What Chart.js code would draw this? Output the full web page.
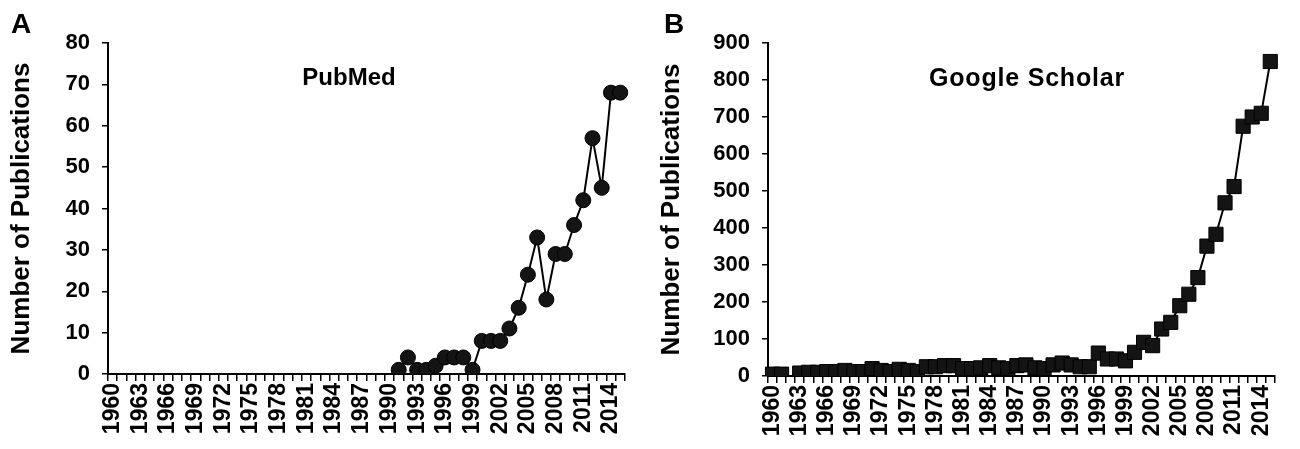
<!DOCTYPE html>
<html>
<head>
<meta charset="utf-8">
<script src="https://cdn.jsdelivr.net/npm/chart.js@4/dist/chart.umd.min.js"></script>
<style>
  html, body { margin: 0; padding: 0; background: #fff; }
  body { width: 1300px; height: 449px; position: relative; overflow: hidden; font-family: "Liberation Sans", Arial, sans-serif; }
  .panel { position: absolute; top: 0; width: 650px; height: 449px; }
  .letter { position: absolute; font-size: 28px; font-weight: bold; color: #000; line-height: 1; }
  .ptitle { position: absolute; font-size: 24px; font-weight: bold; color: #000; line-height: 1; white-space: nowrap; transform: translateX(-50%); }
</style>
</head>
<body>
<canvas id="chartA" class="panel" style="left:0" width="650" height="449"></canvas>
<canvas id="chartB" class="panel" style="left:650px" width="650" height="449"></canvas>
<div class="letter" style="left:11px; top:10px">A</div>
<div class="letter" style="left:664px; top:10px">B</div>
<div class="ptitle" style="left:349px; top:65px">PubMed</div>
<div class="ptitle" style="left:1027px; top:65px; font-size:25px; letter-spacing:0.8px">Google Scholar</div>
<script>
    const years = [
        "1960", "1961", "1962", "1963", "1964", "1965", "1966", "1967", "1968", "1969",
        "1970", "1971", "1972", "1973", "1974", "1975", "1976", "1977", "1978", "1979",
        "1980", "1981", "1982", "1983", "1984", "1985", "1986", "1987", "1988", "1989",
        "1990", "1991", "1992", "1993", "1994", "1995", "1996", "1997", "1998", "1999",
        "2000", "2001", "2002", "2003", "2004", "2005", "2006", "2007", "2008", "2009",
        "2010", "2011", "2012", "2013", "2014", "2015",
    ];

    // PubMed: nothing before 1991
    const pubmedCounts = [
        null, null, null, null, null, null, null, null, null, null,
        null, null, null, null, null, null, null, null, null, null,
        null, null, null, null, null, null, null, null, null, null,
        null, 1, 4, 1, 1, 2, 4, 4, 4, 1,
        8, 8, 8, 11, 16, 24, 33, 18, 29, 29,
        36, 42, 57, 45, 68, 68,
    ];

    const scholarCounts = [
        5, 5, null, 8, 10, 10, 12, 12, 15, 12,
        12, 20, 15, 12, 18, 15, 12, 25, 25, 28,
        28, 20, 20, 22, 28, 22, 20, 28, 30, 22,
        20, 30, 35, 30, 25, 25, 62, 46, 46, 41,
        64, 91, 82, 127, 145, 190, 221, 266, 351, 383,
        468, 512, 675, 700, 710, 850,
    ];

    const pubmedTicks = { min: 0, max: 80, step: 10 };
    const scholarTicks = { min: 0, max: 900, step: 100 };
    const yTitle = "Number of Publications";
    const LABEL_EVERY = 3;

    const FONT = "'Liberation Sans', Arial, sans-serif";

    function makeChart(canvasId, values, range, pointStyle, pointRadius, box) {
        return new Chart(document.getElementById(canvasId), {
            type: "line",
            data: {
                labels: years,
                datasets: [{
                    data: values,
                    borderColor: "#000",
                    borderWidth: 2,
                    pointStyle: pointStyle,
                    pointRadius: pointRadius,
                    pointBackgroundColor: "#141414",
                    pointBorderColor: "#000",
                    pointBorderWidth: 1,
                    spanGaps: false,
                    tension: 0,
                }],
            },
            options: {
                responsive: false,
                animation: false,
                devicePixelRatio: 1,
                layout: { padding: { top: box.top, right: box.right, bottom: 0, left: 0 } },
                plugins: { legend: { display: false }, tooltip: { enabled: false } },
                scales: {
                    x: {
                        type: "category",
                        offset: true,
                        border: { display: true, color: "#000", width: 2 },
                        grid: { drawOnChartArea: false, drawTicks: true, tickLength: 7, offset: true, color: "#000", lineWidth: 1.5 },
                        ticks: {
                            autoSkip: false,
                            maxRotation: 90,
                            minRotation: 90,
                            padding: 2,
                            color: "#000",
                            font: { family: FONT, size: 23, weight: "bold" },
                            callback(value, index) {
                                return index % LABEL_EVERY === 0 ? this.getLabelForValue(value) : "";
                            },
                        },
                        afterFit(scale) { scale.height = box.xHeight; },
                    },
                    y: {
                        min: range.min,
                        max: range.max,
                        border: { display: true, color: "#000", width: 2 },
                        grid: { drawOnChartArea: false, drawTicks: true, tickLength: 6, color: "#000", lineWidth: 1.5 },
                        ticks: {
                            stepSize: range.step,
                            padding: 12,
                            color: "#000",
                            font: { family: FONT, size: 22, weight: "bold" },
                        },
                        title: {
                            display: true,
                            text: yTitle,
                            color: "#000",
                            font: { family: FONT, size: 26, weight: "bold" },
                            padding: { top: 6, bottom: 0 },
                        },
                        afterFit(scale) { scale.width = box.yWidth; },
                    },
                },
            },
        });
    }

    makeChart("chartA", pubmedCounts, pubmedTicks, "circle", 7.5, { top: 43, right: 23, xHeight: 75, yWidth: 108 });
    makeChart("chartB", scholarCounts, scholarTicks, "rect", 10, { top: 43, right: 13, xHeight: 73, yWidth: 118 });
</script>
</body>
</html>
